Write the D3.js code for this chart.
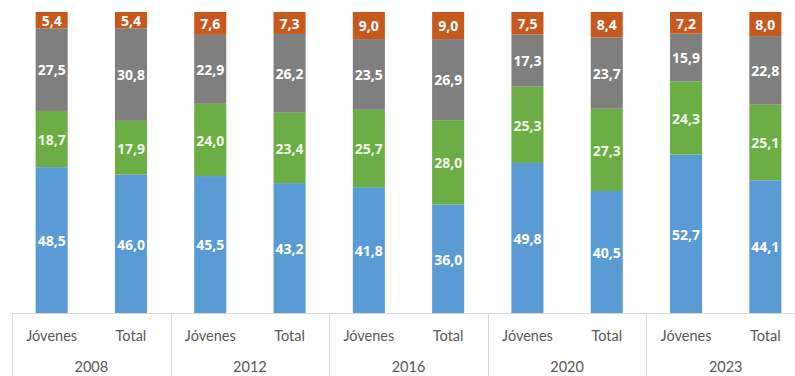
<!DOCTYPE html>
<html>
<head>
<meta charset="utf-8">
<script src="https://cdn.jsdelivr.net/npm/d3@7"></script>
<style>
  html, body { margin: 0; padding: 0; background: #fff; }
  svg { display: block; }
</style>
</head>
<body>
<svg id="chart" width="795" height="376"></svg>
<script>
// Years and the two population groups shown per year
const years = ["2008", "2012", "2016", "2020", "2023"];
const groups = ["Jóvenes", "Total"];

// Share (%) of each segment, bottom to top, one value per bar (year × group)
const blueSeries   = [48.5, 46.0, 45.5, 43.2, 41.8, 36.0, 49.8, 40.5, 52.7, 44.1];
const greenSeries  = [18.7, 17.9, 24.0, 23.4, 25.7, 28.0, 25.3, 27.3, 24.3, 25.1];
const greySeries   = [27.5, 30.8, 22.9, 26.2, 23.5, 26.9, 17.3, 23.7, 15.9, 22.8];
const orangeSeries = [5.4, 5.4, 7.6, 7.3, 9.0, 9.0, 7.5, 8.4, 7.2, 8.0];

const seriesKeys = ["blue", "green", "grey", "orange"];
const seriesColors = { blue: "#5B9BD5", green: "#6DAD46", grey: "#7F7F7F", orange: "#C65A1E" };

// One row per bar
const rows = [];
years.forEach((yr, yi) => groups.forEach((g, gi) => {
  const i = yi * 2 + gi;
  rows.push({ year: yr, group: g, blue: blueSeries[i], green: greenSeries[i], grey: greySeries[i], orange: orangeSeries[i] });
}));

const svg = d3.select("#chart");
const plotLeft = 12, groupW = 158.6;
const plotTop = 12, plotBottom = 313;

const x0 = d3.scaleBand().domain(years).range([plotLeft, plotLeft + groupW * years.length]).padding(0);
const x1 = d3.scaleBand().domain(groups).range([0, x0.bandwidth()]).paddingInner(0.596).paddingOuter(0.298);
const y = d3.scaleLinear().domain([0, 1]).range([plotBottom, plotTop]);

const stacked = d3.stack().keys(seriesKeys).offset(d3.stackOffsetExpand)(rows);

const layers = svg.append("g").selectAll("g").data(stacked).join("g")
  .attr("fill", d => seriesColors[d.key]);

layers.selectAll("rect").data(d => d).join("rect")
  .attr("x", d => x0(d.data.year) + x1(d.data.group))
  .attr("width", x1.bandwidth())
  .attr("y", d => y(d[1]))
  .attr("height", d => y(d[0]) - y(d[1]));

// Value labels centred in each segment
const fmt = v => v.toFixed(1).replace(".", ",");
svg.append("g").selectAll("g").data(stacked).join("g")
  .selectAll("text").data(d => d.map(p => ({ p, key: d.key }))).join("text")
  .attr("x", d => x0(d.p.data.year) + x1(d.p.data.group) + x1.bandwidth() / 2)
  .attr("y", d => (y(d.p[0]) + y(d.p[1])) / 2 + 2)
  .attr("text-anchor", "middle")
  .attr("dominant-baseline", "middle")
  .attr("fill", d => d.key === "green" ? "#eef6e6" : "#ffffff")
  .attr("font-family", "'Open Sans', sans-serif")
  .attr("font-weight", 700)
  .attr("font-size", "14px")
  .text(d => fmt(d.p.data[d.key]));

// Category axis: baseline, group separators, and two label rows
const axisColor = "#D9D9D9";
const axis = svg.append("g");
axis.append("line")
  .attr("x1", plotLeft).attr("x2", 795)
  .attr("y1", plotBottom + 0.5).attr("y2", plotBottom + 0.5)
  .attr("stroke", axisColor);
const edges = years.map(yr => x0(yr)).concat([x0(years[years.length - 1]) + x0.bandwidth()]);
axis.selectAll("line.sep").data(edges).join("line")
  .attr("class", "sep")
  .attr("x1", d => Math.round(d) + 0.5).attr("x2", d => Math.round(d) + 0.5)
  .attr("y1", plotBottom).attr("y2", 376)
  .attr("stroke", axisColor);

const labelStyle = sel => sel
  .attr("text-anchor", "middle")
  .attr("fill", "#595959")
  .attr("font-family", "Lato, sans-serif")
  .attr("font-size", "14.5px");

axis.selectAll("text.grp").data(rows).join("text")
  .attr("class", "grp")
  .attr("x", d => x0(d.year) + x1(d.group) + x1.bandwidth() / 2)
  .attr("y", 341)
  .call(labelStyle)
  .text(d => d.group);

axis.selectAll("text.yr").data(years).join("text")
  .attr("class", "yr")
  .attr("x", d => x0(d) + x0.bandwidth() / 2)
  .attr("y", 372)
  .call(labelStyle)
  .text(d => d);
</script>
</body>
</html>
